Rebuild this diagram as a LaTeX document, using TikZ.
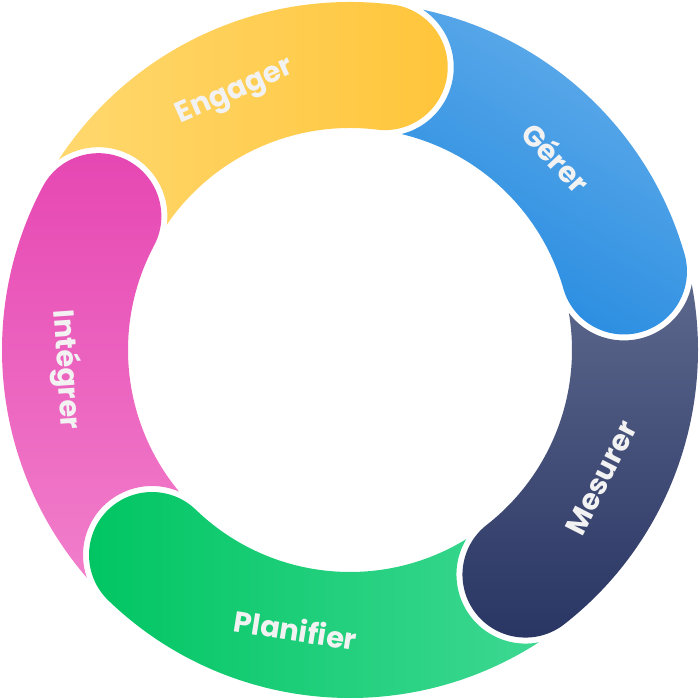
\documentclass[tikz,border=0pt]{standalone}
\usepackage{fontspec}
\setmainfont{Poppins}
\usetikzlibrary{positioning}
\definecolor{yellowA}{HTML}{FFD86E}
\definecolor{yellowB}{HTML}{FFC53A}
\definecolor{blueA}{HTML}{62ADEA}
\definecolor{blueB}{HTML}{2389E0}
\definecolor{navyA}{HTML}{5C678C}
\definecolor{navyB}{HTML}{283462}
\definecolor{greenA}{HTML}{00C562}
\definecolor{greenB}{HTML}{3DD892}
\definecolor{pinkA}{HTML}{E646B2}
\definecolor{pinkB}{HTML}{F17ECB}
\tikzset{seglabel/.style = {
  text=white!90!gray,
  font=\fontsize{29}{32}\selectfont\bfseries
  }}
% ring segment: hollow start around the previous cap, round cap at its clockwise end
\newcommand{\segpath}[2]{(#1-5.12:348pt) arc[start angle=#1-5.12, end angle=#2, radius=348pt]
  arc[start angle=#2, end angle=#2-180, radius=63pt]
  arc[start angle=#2, end angle=#1-6.41, radius=222pt]
  arc[start angle=#1-158.95, end angle=#1-26.75, radius=69pt] -- cycle}

\begin{document}
\begin{tikzpicture}[x=1pt, y=1pt]
\useasboundingbox (-350,-350) rectangle (350,350);

	% Segments
    \shade[left color=yellowA, right color=yellowB] \segpath{152}{83};
    \shade[left color=blueA, right color=blueB, shading angle=-30] \segpath{83}{16};
    \shade[top color=navyA, bottom color=navyB] \segpath{16}{-52};
    \shade[left color=greenA, right color=greenB] \segpath{-52}{-134};
    \shade[top color=pinkA, bottom color=pinkB] \segpath{226}{152};

	% Labels
    \node (engager) [seglabel, rotate=24] at (114:282) {Engager};
    \node (gerer) [seglabel, rotate=-47] at (43:282) {Gérer};
    \node (mesurer) [seglabel, rotate=63] at (-27:282) {Mesurer};
    \node (planifier) [seglabel, rotate=-9] at (-101:285) {Planifier};
    \node (integrer) [seglabel, rotate=-86] at (184:285) {Intégrer};

\end{tikzpicture}
\end{document}
